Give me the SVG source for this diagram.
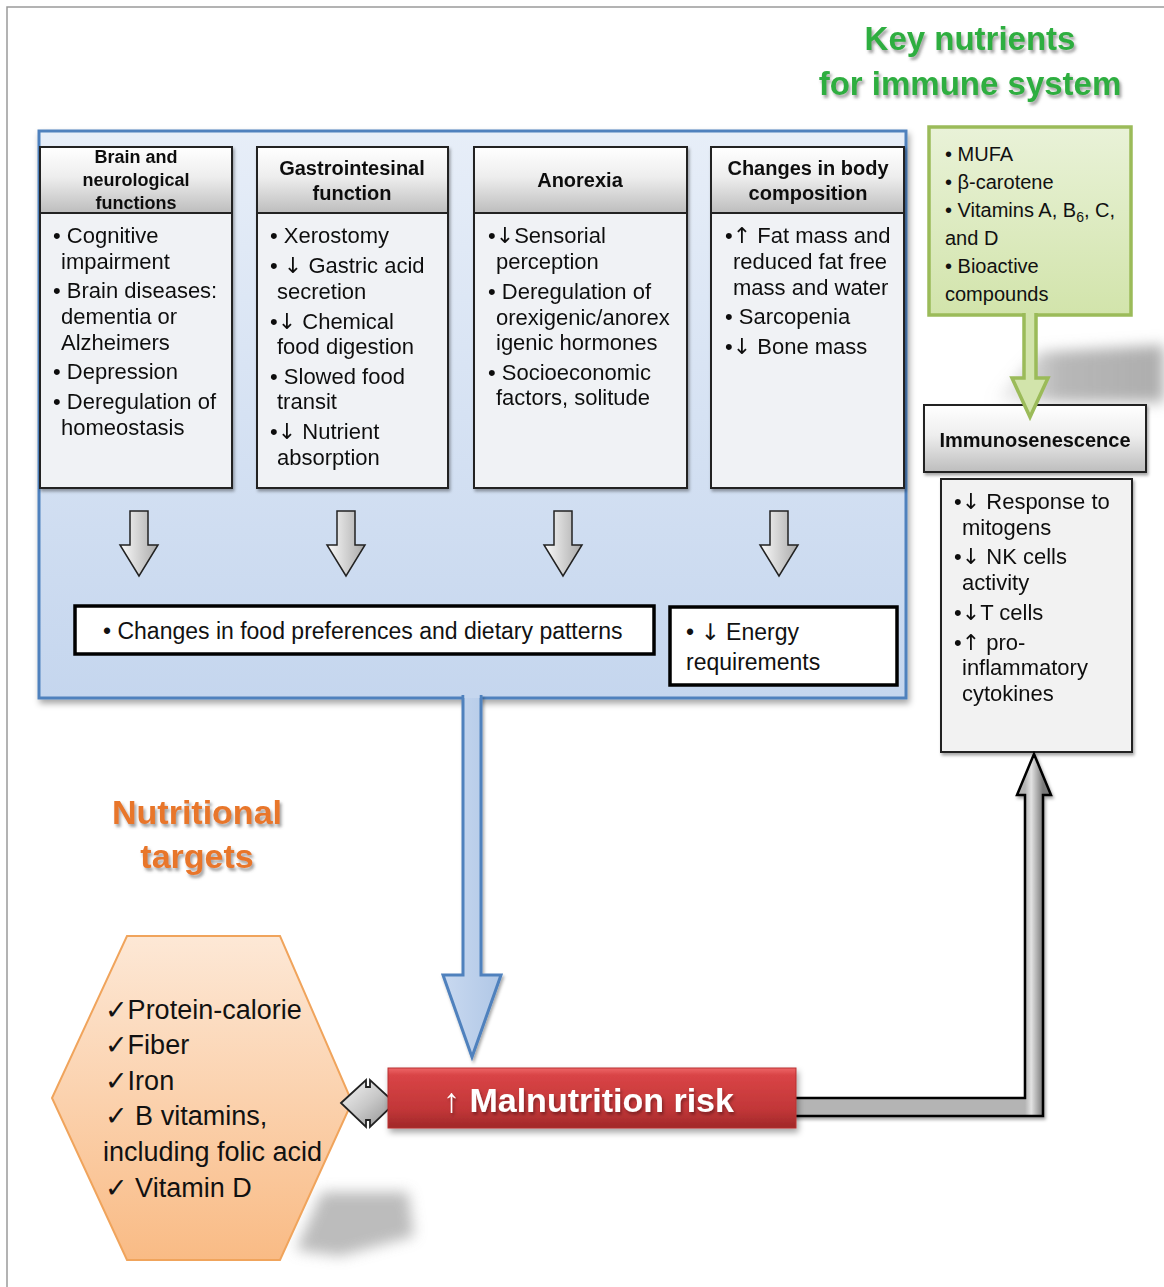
<svg xmlns="http://www.w3.org/2000/svg" width="1164" height="1287" viewBox="0 0 1164 1287">
<defs>
<style>
text{font-family:"Liberation Sans",Arial,"DejaVu Sans",sans-serif;fill:#111}
.b{font-size:22px}
.bb{font-size:23px}
.g{font-size:20px}
.x{font-size:27px}
.ar{font-family:"DejaVu Sans",sans-serif}
.h{font-size:20px;font-weight:bold;text-anchor:middle}
.hs{font-size:18px;font-weight:bold;text-anchor:middle}
.hdr{fill:url(#hdrG);stroke:#222;stroke-width:2}
.bod{fill:#f0f2f5;stroke:#222;stroke-width:2}
.garr{fill:url(#grayH);stroke:#222;stroke-width:1.5}
.tbox{fill:#fff;stroke:#000;stroke-width:3.5}
</style>
<linearGradient id="hdrG" x1="0" y1="0" x2="0" y2="1"><stop offset="0" stop-color="#ffffff"/><stop offset="0.45" stop-color="#eeeeee"/><stop offset="1" stop-color="#bdbdbd"/></linearGradient>
<linearGradient id="panelG" x1="0" y1="0" x2="0" y2="1"><stop offset="0" stop-color="#e7eef8"/><stop offset="1" stop-color="#c5d6ee"/></linearGradient>
<linearGradient id="grayH" x1="0" y1="0" x2="1" y2="0"><stop offset="0" stop-color="#fbfbfb"/><stop offset="1" stop-color="#a9a9a9"/></linearGradient>
<linearGradient id="grayC" gradientUnits="userSpaceOnUse" x1="1025" y1="0" x2="1043" y2="0"><stop offset="0" stop-color="#b4b4b4"/><stop offset="0.35" stop-color="#e2e2e2"/><stop offset="1" stop-color="#7a7a7a"/></linearGradient>
<linearGradient id="grayD" x1="0" y1="0" x2="1" y2="1"><stop offset="0" stop-color="#f5f5f5"/><stop offset="0.5" stop-color="#c8c8c8"/><stop offset="1" stop-color="#8c8c8c"/></linearGradient>
<linearGradient id="redG" x1="0" y1="0" x2="0" y2="1"><stop offset="0" stop-color="#ee6668"/><stop offset="0.12" stop-color="#d94446"/><stop offset="0.7" stop-color="#c13638"/><stop offset="1" stop-color="#a02828"/></linearGradient>
<linearGradient id="hexG" x1="0" y1="0" x2="0" y2="1"><stop offset="0" stop-color="#fde8d6"/><stop offset="1" stop-color="#f9bb85"/></linearGradient>
<linearGradient id="greenG" x1="0" y1="0" x2="0" y2="1"><stop offset="0" stop-color="#e9f2d8"/><stop offset="1" stop-color="#d2e4ab"/></linearGradient>
<linearGradient id="blueA" x1="0" y1="0" x2="1" y2="0"><stop offset="0" stop-color="#c9d9f0"/><stop offset="1" stop-color="#b0c7e6"/></linearGradient>
<linearGradient id="shadeL" x1="0" y1="0" x2="1" y2="0"><stop offset="0" stop-color="#999" stop-opacity="0"/><stop offset="0.4" stop-color="#999" stop-opacity="0.7"/><stop offset="1" stop-color="#999" stop-opacity="0.8"/></linearGradient>
<filter id="sh" x="-10%" y="-10%" width="130%" height="130%"><feDropShadow dx="2" dy="4" stdDeviation="3" flood-color="#000" flood-opacity="0.35"/></filter>
<filter id="shs" x="-10%" y="-10%" width="130%" height="130%"><feDropShadow dx="1.5" dy="2.5" stdDeviation="1.5" flood-color="#000" flood-opacity="0.35"/></filter>
<filter id="tsh" x="-10%" y="-20%" width="130%" height="160%"><feDropShadow dx="2" dy="3" stdDeviation="1.5" flood-color="#555" flood-opacity="0.55"/></filter>
<filter id="blur" x="-30%" y="-50%" width="160%" height="200%"><feGaussianBlur stdDeviation="7"/></filter>
</defs>

<!-- outer frame -->
<path d="M7,1287 L7,7 L1164,7" fill="none" stroke="#9a9a9a" stroke-width="1.5"/>

<!-- shadows -->
<polygon points="990,402 1040,352 1164,345 1164,402" fill="url(#shadeL)" filter="url(#blur)"/>
<polygon points="296,1250 322,1192 408,1192 414,1236 340,1256" fill="#a6a6a6" opacity="0.75" filter="url(#blur)"/>

<!-- titles -->
<g id="title-key" filter="url(#tsh)">
<text x="970" y="50" font-size="33" font-weight="bold" text-anchor="middle" style="fill:#2fae3f">Key nutrients</text>
<text x="970" y="95" font-size="33" font-weight="bold" text-anchor="middle" style="fill:#2fae3f">for immune system</text>
</g>
<g id="title-targets" filter="url(#tsh)">
<text x="197" y="824" font-size="34" font-weight="bold" text-anchor="middle" style="fill:#e8762a">Nutritional</text>
<text x="197" y="868" font-size="34" font-weight="bold" text-anchor="middle" style="fill:#e8762a">targets</text>
</g>

<!-- blue panel -->
<g id="panel">
<rect x="39" y="131" width="867" height="567" fill="url(#panelG)" stroke="#4f81bd" stroke-width="3" filter="url(#sh)"/>
</g>

<!-- column 1 -->
<g id="brain" filter="url(#shs)">
<rect class="hdr" x="40" y="147" width="192" height="66"/>
<rect class="bod" x="40" y="213" width="192" height="275"/>
<text class="hs" x="136" y="163">Brain and</text>
<text class="hs" x="136" y="186">neurological</text>
<text class="hs" x="136" y="209">functions</text>
<text class="b" x="53" y="243">• Cognitive</text>
<text class="b" x="61" y="269">impairment</text>
<text class="b" x="53" y="298">• Brain diseases:</text>
<text class="b" x="61" y="324">dementia or</text>
<text class="b" x="61" y="350">Alzheimers</text>
<text class="b" x="53" y="379">• Depression</text>
<text class="b" x="53" y="409">• Deregulation of</text>
<text class="b" x="61" y="435">homeostasis</text>
</g>

<!-- column 2 -->
<g id="gastro" filter="url(#shs)">
<rect class="hdr" x="257" y="147" width="191" height="66"/>
<rect class="bod" x="257" y="213" width="191" height="275"/>
<text class="h" x="352" y="175">Gastrointesinal</text>
<text class="h" x="352" y="200">function</text>
<text class="b" x="270" y="243">• Xerostomy</text>
<text class="b" x="270" y="273">• <tspan class="ar">↓</tspan> Gastric acid</text>
<text class="b" x="277" y="299">secretion</text>
<text class="b" x="270" y="329">•<tspan class="ar">↓</tspan> Chemical</text>
<text class="b" x="277" y="354">food digestion</text>
<text class="b" x="270" y="384">• Slowed food</text>
<text class="b" x="277" y="409">transit</text>
<text class="b" x="270" y="439">•<tspan class="ar">↓</tspan> Nutrient</text>
<text class="b" x="277" y="465">absorption</text>
</g>

<!-- column 3 -->
<g id="anorexia" filter="url(#shs)">
<rect class="hdr" x="474" y="147" width="213" height="66"/>
<rect class="bod" x="474" y="213" width="213" height="275"/>
<text class="h" x="580" y="187">Anorexia</text>
<text class="b" x="488" y="243">•<tspan class="ar">↓</tspan>Sensorial</text>
<text class="b" x="496" y="269">perception</text>
<text class="b" x="488" y="299">• Deregulation of</text>
<text class="b" x="496" y="325">orexigenic/anorex</text>
<text class="b" x="496" y="350">igenic hormones</text>
<text class="b" x="488" y="380">• Socioeconomic</text>
<text class="b" x="496" y="405">factors, solitude</text>
</g>

<!-- column 4 -->
<g id="body" filter="url(#shs)">
<rect class="hdr" x="711" y="147" width="193" height="66"/>
<rect class="bod" x="711" y="213" width="193" height="275"/>
<text class="h" x="808" y="175">Changes in body</text>
<text class="h" x="808" y="200">composition</text>
<text class="b" x="725" y="243">•<tspan class="ar">↑</tspan> Fat mass and</text>
<text class="b" x="733" y="269">reduced fat free</text>
<text class="b" x="733" y="295">mass and water</text>
<text class="b" x="725" y="324">• Sarcopenia</text>
<text class="b" x="725" y="354">•<tspan class="ar">↓</tspan> Bone mass</text>
</g>

<!-- bottom boxes in panel -->
<g id="food-pref">
<rect class="tbox" x="75" y="606" width="579" height="48"/>
<text class="bb" x="103" y="639">• Changes in food preferences and dietary patterns</text>
</g>
<g id="energy">
<rect class="tbox" x="670" y="607" width="227" height="78"/>
<text class="bb" x="686" y="640">• <tspan class="ar">↓</tspan> Energy</text>
<text class="bb" x="686" y="670">requirements</text>
</g>

<!-- green box -->
<g id="key-nutrients">
<rect x="929" y="127" width="202" height="188" fill="url(#greenG)" stroke="#9bbb59" stroke-width="3.5"/>
<text class="g" x="945" y="161">• MUFA</text>
<text class="g" x="945" y="189">• β-carotene</text>
<text class="g" x="945" y="217">• Vitamins A, B<tspan style="font-size:14px" dy="5">6</tspan><tspan dy="-5">, C,</tspan></text>
<text class="g" x="945" y="245">and D</text>
<text class="g" x="945" y="273">• Bioactive</text>
<text class="g" x="945" y="301">compounds</text>
</g>

<!-- immunosenescence -->
<g id="immuno" filter="url(#shs)">
<rect class="hdr" x="924" y="405" width="222" height="67"/>
<text class="h" x="1035" y="447">Immunosenescence</text>
</g>
<g id="immuno-body" filter="url(#shs)">
<rect x="941" y="479" width="191" height="273" fill="#f2f2f2" stroke="#222" stroke-width="2"/>
<text class="b" x="954" y="509">•<tspan class="ar">↓</tspan> Response to</text>
<text class="b" x="962" y="535">mitogens</text>
<text class="b" x="954" y="564">•<tspan class="ar">↓</tspan> NK cells</text>
<text class="b" x="962" y="590">activity</text>
<text class="b" x="954" y="620">•<tspan class="ar">↓</tspan>T cells</text>
<text class="b" x="954" y="650">•<tspan class="ar">↑</tspan> pro-</text>
<text class="b" x="962" y="675">inflammatory</text>
<text class="b" x="962" y="701">cytokines</text>
</g>

<!-- hexagon -->
<g id="targets">
<polygon points="127,936 280,936 352,1102 280,1260 127,1260 52,1098" fill="url(#hexG)" stroke="#f0a45c" stroke-width="2"/>
<text class="x" x="105" y="1019">✓Protein-calorie</text>
<text class="x" x="105" y="1054">✓Fiber</text>
<text class="x" x="105" y="1090">✓Iron</text>
<text class="x" x="105" y="1125">✓ B vitamins,</text>
<text class="x" x="103" y="1161">including folic acid</text>
<text class="x" x="105" y="1197">✓ Vitamin D</text>
</g>

<!-- connectors -->
<g id="connectors">
<path class="garr" d="M130,511 L148,511 L148,545 L158,545 L139,576 L120,545 L130,545 Z"/>
<path class="garr" d="M337,511 L355,511 L355,545 L365,545 L346,576 L327,545 L337,545 Z"/>
<path class="garr" d="M554,511 L572,511 L572,545 L582,545 L563,576 L544,545 L554,545 Z"/>
<path class="garr" d="M770,511 L788,511 L788,545 L798,545 L779,576 L760,545 L770,545 Z"/>
<path d="M463,695 L463,975 L443,975 L472,1057 L501,975 L481,975 L481,695" fill="url(#blueA)" stroke="#4f81bd" stroke-width="3" stroke-linejoin="miter" filter="url(#shs)"/>
<rect x="464.5" y="690" width="15" height="8" fill="#c5d6ee"/>
<path d="M1024,313 L1024,378 L1012,378 L1030,417 L1048,378 L1036,378 L1036,313" fill="#d2e4ab" stroke="#9bbb59" stroke-width="3.5" stroke-linejoin="miter"/>
<rect x="1026" y="310" width="8" height="6" fill="#d2e4ab"/>
<path d="M790,1098 L1025,1098 L1025,795 L1017,795 L1034,754 L1051,795 L1043,795 L1043,1116 L790,1116 Z" fill="url(#grayC)" stroke="#000" stroke-width="2.5" stroke-linejoin="miter" filter="url(#shs)"/>
<path d="M341,1103 L366,1080 L366,1087 L370,1087 L370,1080 L395,1103 L370,1127 L370,1120 L366,1120 L366,1127 Z" fill="url(#grayD)" stroke="#222" stroke-width="1.8"/>
</g>

<!-- malnutrition risk -->
<g id="malnutrition" filter="url(#sh)">
<rect x="388" y="1068" width="408" height="60" fill="url(#redG)" stroke="#b83030" stroke-width="1"/>
<text x="443" y="1112" font-size="34" font-weight="bold" style="fill:#fff" filter="url(#shs)">↑ Malnutrition risk</text>
</g>
</svg>
